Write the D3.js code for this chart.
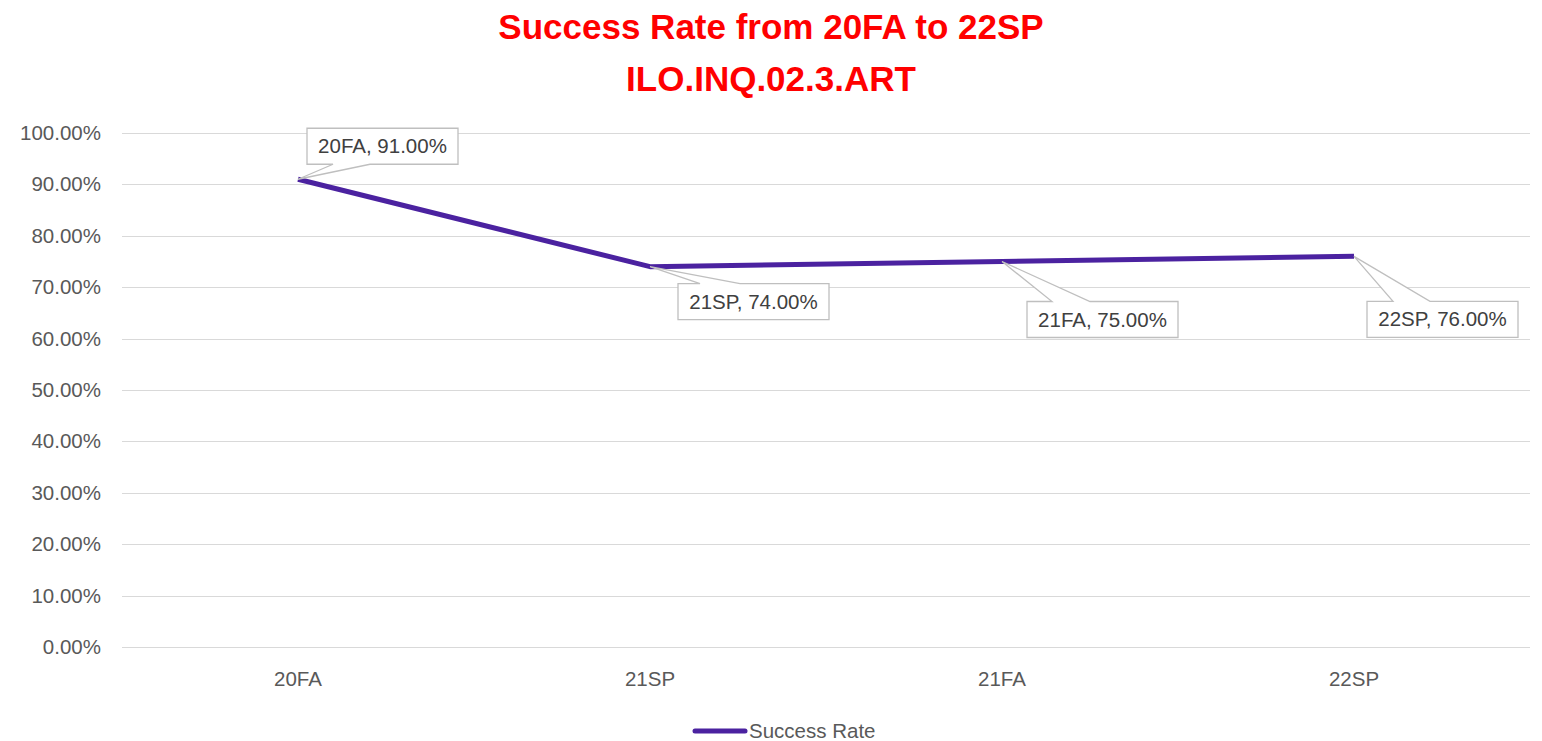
<!DOCTYPE html>
<html>
<head>
<meta charset="utf-8">
<script src="https://cdn.jsdelivr.net/npm/d3@7"></script>
<style>
	body { margin: 0; background: #fff; }
	svg { display: block; font-family: "Liberation Sans", Arial, sans-serif; }
</style>
</head>
<body>
<div id="chart"></div>
<script>
const terms = ["20FA", "21SP", "21FA", "22SP"];
const successRate = [0.91, 0.74, 0.75, 0.76];
const yTicks = [0, 0.1, 0.2, 0.3, 0.4, 0.5, 0.6, 0.7, 0.8, 0.9, 1.0];
const titleLines = ["Success Rate from 20FA to 22SP", "ILO.INQ.02.3.ART"];
const seriesName = "Success Rate";

// callout box offset from its point (dx, dy of box top-left), and which side the wedge sits on
const calloutLayout = [
	{dx: 9, dy: -51, side: "bottom", w1: 26, w2: 63},
	{dx: 28, dy: 17, side: "top", w1: 22, w2: 62},
	{dx: 25, dy: 40, side: "top", w1: 25, w2: 63},
	{dx: 13, dy: 45, side: "top", w1: 26, w2: 63}
];

const width = 1542, height = 741;
const margin = {top: 133, right: 12, bottom: 94, left: 122};
const lineColor = "#4b22a0";

let svg = d3.select("#chart").append("svg")
	.attr("width", width)
	.attr("height", height);

let x = d3.scaleBand()
	.domain(terms)
	.range([margin.left, width - margin.right]);

let y = d3.scaleLinear()
	.domain([0, 1])
	.range([height - margin.bottom, margin.top]);

// title
svg.append("g").selectAll("text")
	.data(titleLines).enter()
	.append("text")
	.attr("x", 771)
	.attr("y", (d, i) => 39 + i * 52)
	.attr("text-anchor", "middle")
	.attr("fill", "#ff0000")
	.style("font-weight", "bold")
	.style("font-size", "35px")
	.text(d => d);

// gridlines
svg.append("g").selectAll("line")
	.data(yTicks).enter()
	.append("line")
	.attr("x1", margin.left)
	.attr("x2", width - margin.right)
	.attr("y1", d => Math.round(y(d)) + 0.5)
	.attr("y2", d => Math.round(y(d)) + 0.5)
	.attr("stroke", "#d9d9d9")
	.attr("stroke-width", 1);

let yAxis = g => g
	.attr("transform", `translate(${margin.left - 21},0)`)
	.call(d3.axisLeft(y).tickValues(yTicks).tickFormat(d3.format(".2%")).tickSize(0).tickPadding(0))
	.call(g => g.select(".domain").remove());

svg.append("g")
	.style("font-size", "20.5px")
	.call(yAxis)
	.selectAll("text")
	.attr("fill", "#595959");

let xAxis = g => g
	.attr("transform", `translate(0,${height - margin.bottom})`)
	.call(d3.axisBottom(x).tickSize(0).tickPadding(24))
	.call(g => g.select(".domain").remove());

svg.append("g")
	.style("font-size", "20.5px")
	.call(xAxis)
	.selectAll("text")
	.attr("fill", "#595959");

let cx = d => x(d) + x.bandwidth() / 2;
let points = terms.map((t, i) => ({term: t, value: successRate[i], px: cx(t), py: y(successRate[i])}));

// series line
svg.append("path")
	.datum(points)
	.attr("fill", "none")
	.attr("stroke", lineColor)
	.attr("stroke-width", 5)
	.attr("stroke-linejoin", "round")
	.attr("d", d3.line().x(d => d.px).y(d => d.py));

// data label callouts
let boxW = 151, boxH = 36;
let callouts = svg.append("g").selectAll("g")
	.data(points).enter()
	.append("g");

callouts.append("path")
	.attr("fill", "#fff")
	.attr("stroke", "#bfbfbf")
	.attr("stroke-width", 1.3)
	.attr("d", (d, i) => {
		let c = calloutLayout[i];
		let x0 = d.px + c.dx, y0 = d.py + c.dy, x1 = x0 + boxW, y1 = y0 + boxH;
		if (c.side === "bottom") {
			return `M${x0},${y0}L${x1},${y0}L${x1},${y1}L${x0 + c.w2},${y1}L${d.px},${d.py}L${x0 + c.w1},${y1}L${x0},${y1}Z`;
		}
		return `M${x0},${y0}L${x0 + c.w1},${y0}L${d.px},${d.py}L${x0 + c.w2},${y0}L${x1},${y0}L${x1},${y1}L${x0},${y1}Z`;
	});

callouts.append("text")
	.attr("x", (d, i) => d.px + calloutLayout[i].dx + boxW / 2)
	.attr("y", (d, i) => d.py + calloutLayout[i].dy + boxH / 2 + 7)
	.attr("text-anchor", "middle")
	.attr("fill", "#404040")
	.style("font-size", "20.5px")
	.text(d => `${d.term}, ${d3.format(".2%")(d.value)}`);

// legend
let legend = svg.append("g").attr("transform", "translate(693,731)");
legend.append("line")
	.attr("x1", 2).attr("x2", 52)
	.attr("stroke", lineColor)
	.attr("stroke-width", 5)
	.attr("stroke-linecap", "round");
legend.append("text")
	.attr("x", 56)
	.attr("y", 7)
	.attr("fill", "#595959")
	.style("font-size", "20.5px")
	.text(seriesName);
</script>
</body>
</html>
